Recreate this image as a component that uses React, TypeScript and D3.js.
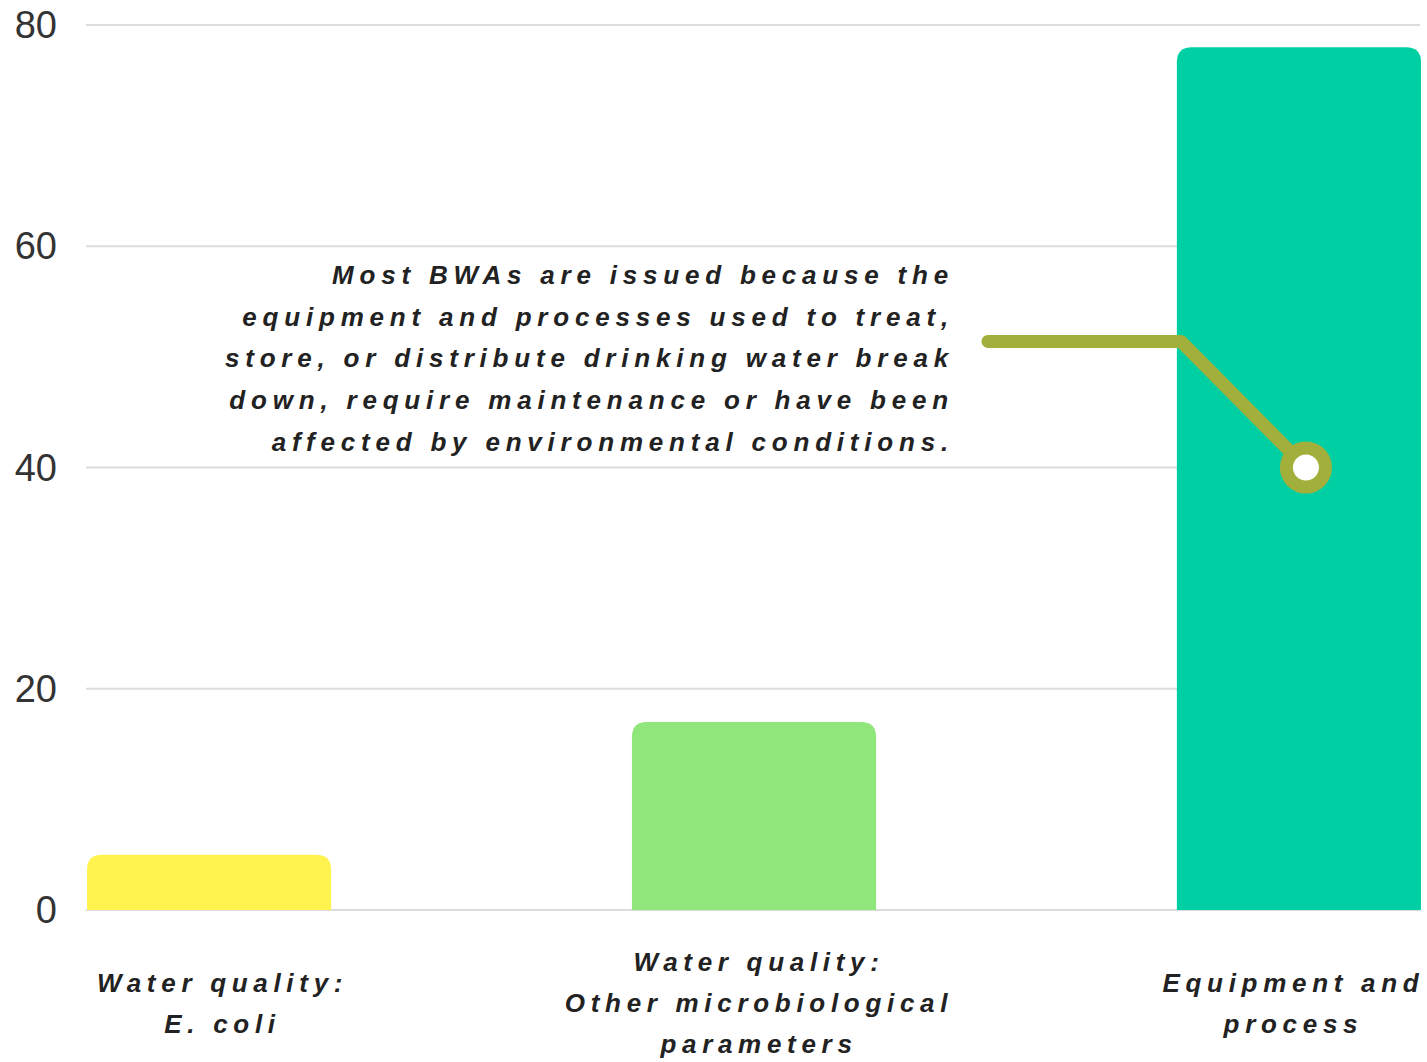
import React from "react";
import * as d3 from "d3";

const categories = ["ecoli", "other", "equipment"];
const categoryLabels = [
  ["Water quality:", "E. coli"],
  ["Water quality:", "Other microbiological", "parameters"],
  ["Equipment and", "process"],
];
const values = [5, 17, 78];
const barColors = ["#fff350", "#8fe67a", "#00cfa3"];
const yTicks = [0, 20, 40, 60, 80];
const annotationLines = [
  "Most BWAs are issued because the",
  "equipment and processes used to treat,",
  "store, or distribute drinking water break",
  "down, require maintenance or have been",
  "affected by environmental conditions.",
];
const annotationPointValue = 40;
const annotationElbowValue = 51.4;

const W = 1427;
const H = 1062;
const left = 87;
const right = 1421;
const top = 25;
const bottom = 910;

function roundedTopBar(x: number, y: number, w: number, h: number, r: number) {
  const rr = Math.min(r, h, w / 2);
  return `M${x},${y + h}V${y + rr}Q${x},${y} ${x + rr},${y}H${x + w - rr}Q${x + w},${y} ${x + w},${y + rr}V${y + h}Z`;
}

export default function App() {
  const x = d3.scaleBand<string>().domain(categories).range([left, right]).paddingInner(0.552).paddingOuter(0);
  const y = d3.scaleLinear().domain([0, 80]).range([bottom, top]);
  const bw = x.bandwidth();
  const font = "'Liberation Sans', Arial, sans-serif";
  const labelOffsets = [13.5, 5, -5.5];

  const px = (x(categories[2]) as number) + bw / 2 + 7;
  const py = y(annotationPointValue);
  const ey = y(annotationElbowValue);
  const ex = x(categories[2]) as number;
  const line = d3.line()([
    [988, ey],
    [ex + 4, ey],
    [px, py],
  ]);

  return (
    <svg width={W} height={H} style={{ position: "absolute", left: 0, top: 0, background: "#fff" }}>
      {yTicks.map((t) => (
        <g key={t}>
          <line x1={left - 1} x2={right - 1} y1={y(t)} y2={y(t)} stroke="#dcdcdc" strokeWidth={2} />
          <text x={57} y={y(t) + 13} textAnchor="end" fontFamily={font} fontSize={38} fill="#333">
            {t}
          </text>
        </g>
      ))}
      {categories.map((c, i) => (
        <path
          key={c}
          d={roundedTopBar(x(c) as number, y(values[i]), bw, bottom - y(values[i]), 15)}
          fill={barColors[i]}
        />
      ))}
      {categories.map((c, i) => {
        const lines = categoryLabels[i];
        const cx = (x(c) as number) + bw / 2 + labelOffsets[i];
        const mid = 1012;
        const lh = 41;
        const start = mid - ((lines.length - 1) * lh) / 2;
        return (
          <text
            key={c}
            textAnchor="middle"
            fontFamily={font}
            fontSize={26}
            fontWeight="bold"
            fontStyle="italic"
            letterSpacing={5.7}
            fill="#222"
          >
            {lines.map((l, j) => (
              <tspan key={j} x={cx} y={start + j * lh}>
                {l}
              </tspan>
            ))}
          </text>
        );
      })}
      <text
        textAnchor="end"
        fontFamily={font}
        fontSize={26}
        fontWeight="bold"
        fontStyle="italic"
        letterSpacing={5.8}
        fill="#222"
      >
        {annotationLines.map((l, j) => (
          <tspan key={j} x={954} y={284 + j * 41.7}>
            {l}
          </tspan>
        ))}
      </text>
      <path d={line || ""} fill="none" stroke="#a3af3b" strokeWidth={13} strokeLinecap="round" strokeLinejoin="round" />
      <circle cx={px} cy={py} r={19.5} fill="#fff" stroke="#a3af3b" strokeWidth={13} />
    </svg>
  );
}
